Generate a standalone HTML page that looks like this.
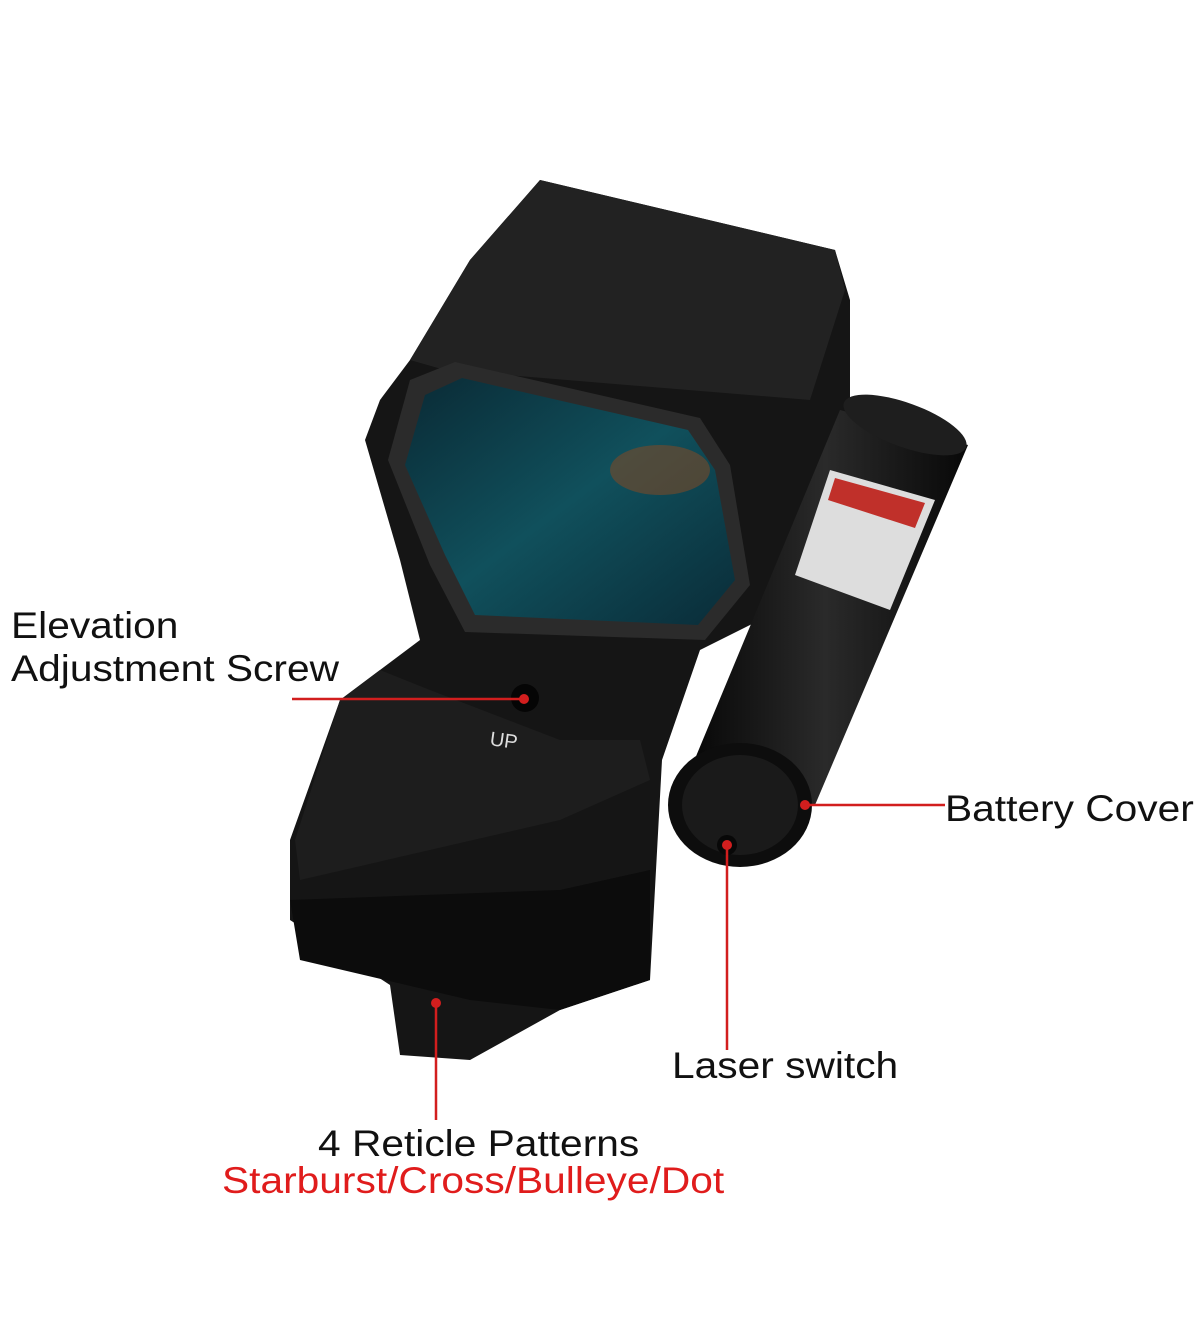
<!DOCTYPE html>
<html><head><meta charset="utf-8"><style>
html,body{margin:0;padding:0;background:#fff;}
body{width:1200px;height:1323px;position:relative;overflow:hidden;font-family:"Liberation Sans",sans-serif;}
svg{position:absolute;left:0;top:0;}
.t{position:absolute;font-size:37px;color:#111;white-space:nowrap;transform:scaleX(1.1);transform-origin:0 0;}
</style></head><body>
<svg width="1200" height="1323" viewBox="0 0 1200 1323">
<defs>
<linearGradient id="lens" x1="0" y1="0" x2="1" y2="1">
<stop offset="0" stop-color="#0a2a35"/><stop offset="0.5" stop-color="#10505c"/><stop offset="1" stop-color="#0a2c38"/>
</linearGradient>
<linearGradient id="cyl" x1="0" y1="0" x2="1" y2="0">
<stop offset="0" stop-color="#050505"/><stop offset="0.5" stop-color="#2a2a2a"/><stop offset="1" stop-color="#080808"/>
</linearGradient>
</defs>
<polygon fill="#151515" points="540,180 835,250 850,300 850,420 760,620 700,650 662,760 650,980 560,1010 470,1060 400,1055 390,985 290,920 290,840 340,700 380,670 420,640 400,560 365,440 380,400 410,360 470,260"/>
<polygon fill="#222" points="540,180 835,250 845,290 810,400 445,370 410,360 470,260"/>
<polygon fill="#1d1d1d" points="380,670 430,690 560,740 640,740 650,780 560,820 300,880 295,840 340,700"/>
<polygon fill="#0c0c0c" points="290,900 560,890 650,870 650,980 560,1010 470,1000 300,960"/>
<polygon fill="#2b2b2b" points="410,380 455,362 700,418 730,465 750,585 705,640 465,632 430,565 388,460"/>
<polygon fill="url(#lens)" points="425,395 462,378 688,430 715,470 735,580 698,625 475,615 445,555 405,465"/>
<ellipse cx="660" cy="470" rx="50" ry="25" fill="#7a4a28" opacity="0.6"/>
<circle cx="525" cy="698" r="14" fill="#050505"/>
<text x="490" y="748" fill="#ddd" font-size="20" font-family="Liberation Sans" transform="rotate(8 510 740)">UP</text>
<polygon fill="url(#cyl)" points="840,410 968,445 815,805 682,790"/>
<ellipse cx="905" cy="425" rx="65" ry="22" fill="#1e1e1e" transform="rotate(20 905 425)"/>
<polygon fill="#ddd" points="830,470 935,500 890,610 795,575"/>
<polygon fill="#c0302a" points="835,478 925,503 915,528 828,500"/>
<ellipse cx="740" cy="805" rx="72" ry="62" fill="#0d0d0d"/>
<ellipse cx="740" cy="805" rx="58" ry="50" fill="#1a1a1a"/>
<circle cx="727" cy="845" r="10" fill="#080808"/>
<g stroke="#d21e1e" stroke-width="2.5" fill="none">
<line x1="292" y1="699" x2="524" y2="699"/>
<line x1="805" y1="805" x2="945" y2="805"/>
<line x1="727" y1="845" x2="727" y2="1050"/>
<line x1="436" y1="1003" x2="436" y2="1120"/>
</g>
<g fill="#d21e1e">
<circle cx="524" cy="699" r="5"/><circle cx="805" cy="805" r="5"/><circle cx="727" cy="845" r="5"/><circle cx="436" cy="1003" r="5"/>
</g>
</svg>
<div class="t" style="left:11px;top:605px;">Elevation</div>
<div class="t" style="left:11px;top:648px;">Adjustment Screw</div>
<div class="t" style="left:945px;top:788px;">Battery Cover</div>
<div class="t" style="left:672px;top:1045px;">Laser switch</div>
<div class="t" style="left:318px;top:1123px;">4 Reticle Patterns</div>
<div class="t" style="left:222px;top:1160px;color:#e01c1c;">Starburst/Cross/Bulleye/Dot</div>
</body></html>
